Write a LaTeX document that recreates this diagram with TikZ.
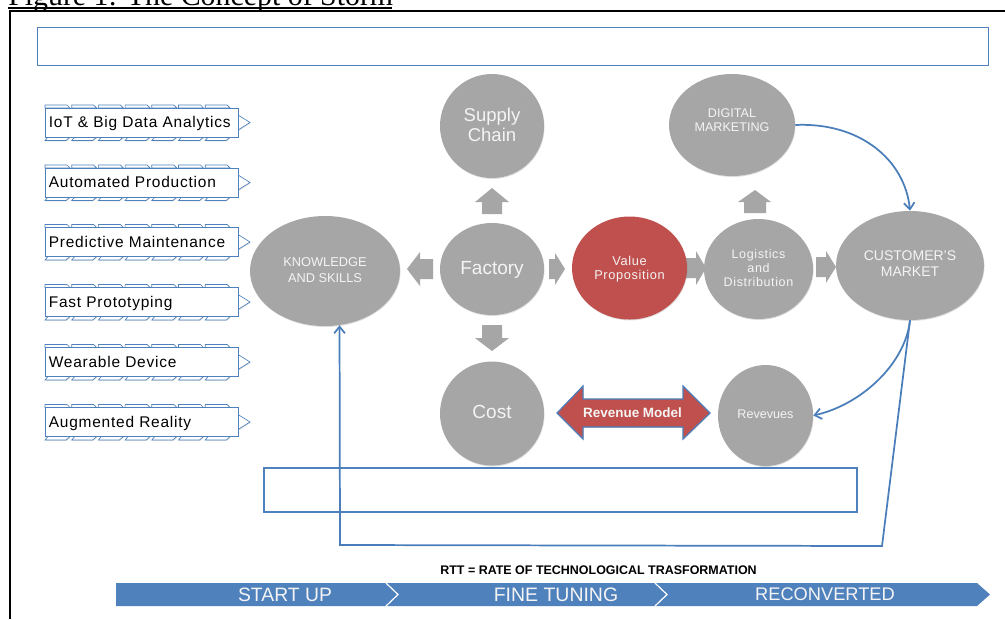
\documentclass[tikz,border=0pt]{standalone}
\usepackage{fontspec}
\setmainfont{Liberation Sans}
\newfontfamily\titlefont{Liberation Serif}
\newfontfamily\spacedfont[LetterSpace=5]{Liberation Sans}
\usetikzlibrary{shapes.geometric,shadows,arrows.meta}
\definecolor{ovalgray}{HTML}{A6A6A6}
\definecolor{redfill}{HTML}{C0504D}
\definecolor{bluefill}{HTML}{4F81BD}
\definecolor{blueline}{HTML}{4A7EBB}
\definecolor{soft}{HTML}{F4F4F4}
\tikzset{
  softshadow/.style={drop shadow={shadow xshift=0.4pt,shadow yshift=-0.7pt,opacity=.22,fill=black!60}},
  oval/.style n args={3}{ellipse,inner sep=0pt,minimum width=#1*1.5pt,minimum height=#2*1.5pt,
     fill=#3,softshadow},
  ovaltext/.style 2 args={text=soft,align=center,inner sep=0pt,font=\fontsize{#1}{#2}\selectfont},
  ovalspaced/.style={text=soft,align=center,inner sep=0pt,font=\fontsize{#1}{10.4}\spacedfont},
  blockarrow/.style={fill=ovalgray,draw=none},
  connector/.style={draw=blueline,line width=1.3pt},
  barb/.style={-{Straight Barb[length=5pt,width=8pt]}},
  emptybox/.style={draw=bluefill,line width=0.8pt,fill=white,softshadow},
  tagbox/.style={draw=bluefill,line width=0.7pt,fill=white,inner sep=0pt,minimum width=144.75pt,minimum height=21.75pt,
     softshadow,text=black,text width=139pt,text height=10.5pt,text depth=2.5pt,align=left,font=\fontsize{11.6}{14}\spacedfont},
  tick/.style={draw=bluefill,line width=0.5pt,fill=white,softshadow},
  band/.style={text=soft,inner sep=0pt,font=\fontsize{#1}{16}\selectfont},
  frameline/.style={draw=black,line width=1.1pt}
}
\begin{document}
\begin{tikzpicture}[x=0.75pt,y=-0.75pt]
\clip (0,0) rectangle (1005,619);
\fill[white] (0,0) rectangle (1005,619);
% title
\node[anchor=base west,inner sep=0pt,font=\fontsize{22.4}{25}\titlefont] (title) at (8,5) {Figure 1: The Concept of Storm};
\draw[frameline] (8,8) -- (392,8);
\draw[frameline] (1005,11) -- (10,11) -- (10,619);
% empty box
\node[emptybox,minimum width=713.25pt,minimum height=28.5pt,inner sep=0pt] (topbox) at (513,46.5) {};
% block arrows
\path[blockarrow] (482,214) -- (482,202) -- (475,202) -- (492,188) -- (509,202) -- (502,202) -- (502,214) -- cycle;
\path[blockarrow] (433,259) -- (420,259) -- (420,252) -- (407,269) -- (420,286) -- (420,279) -- (433,279) -- cycle;
\path[blockarrow] (549,259) -- (555,259) -- (555,253) -- (565,269) -- (555,285) -- (555,279) -- (549,279) -- cycle;
\path[blockarrow] (482,325) -- (482,338) -- (475,338) -- (492,351) -- (509,338) -- (502,338) -- (502,325) -- cycle;
\path[blockarrow] (744,213) -- (744,202) -- (738,202) -- (755,190) -- (771,202) -- (766,202) -- (766,213) -- cycle;
\path[blockarrow] (686,258) -- (696,258) -- (696,251) -- (706,268) -- (696,285) -- (696,278) -- (686,278) -- cycle;
\path[blockarrow] (816,257) -- (826,257) -- (826,251) -- (836,267) -- (826,283) -- (826,277) -- (816,277) -- cycle;
% ovals
\node[oval={52}{52}{ovalgray}] (supply) at (492,126) {};
\node[oval={63}{51}{ovalgray}] (digital) at (732,125) {};
\node[oval={75}{55}{ovalgray}] (know) at (325,271) {};
\node[oval={52}{46}{ovalgray}] (factory) at (492,269) {};
\node[oval={57.5}{51.5}{redfill}] (value) at (629.5,268) {};
\node[oval={54.5}{50}{ovalgray}] (logi) at (758.5,269) {};
\node[oval={74}{54.5}{ovalgray}] (cust) at (910,265.5) {};
\node[oval={52}{52}{ovalgray}] (cost) at (492,413.5) {};
\node[oval={47.5}{50.5}{ovalgray}] (rev) at (765.5,415.5) {};
% oval labels
\node[ovaltext={13.9}{15}] (supplytext) at (492,125) {Supply\\Chain};
\node[ovaltext={9.45}{11}] (digitaltext) at (732,120) {DIGITAL\\MARKETING};
\node[ovaltext={9.6}{11.5}] (knowtext) at (325,270) {KNOWLEDGE\\AND SKILLS};
\node[ovaltext={14.25}{16}] (factorytext) at (492,270) {Factory};
\node[ovalspaced=9.6] (valuetext) at (629.5,269) {Value\\Proposition};
\node[ovalspaced=9.4] (logitext) at (758.5,268) {Logistics\\and\\Distribution};
\node[ovaltext={10.5}{11.5}] (custtext) at (910,263.5) {CUSTOMER'S\\MARKET};
\node[ovaltext={14.25}{16}] (costtext) at (492,411.5) {Cost};
\node[ovaltext={9.45}{11}] (revtext) at (765.5,414.5) {Revevues};
% revenue model arrow
\path[fill=redfill,draw=blueline,line width=0.9pt,softshadow]
  (557,413) -- (583,386) -- (583,399) -- (683,399) -- (683,386) -- (710,413) -- (683,439) -- (683,427) -- (583,427) -- (583,439) -- cycle;
\node[text=soft,inner sep=0pt,font=\fontsize{10.1}{12}\bfseries] (model) at (632.5,412.5) {Revenue Model};
% lower box
\node[emptybox,minimum width=444.75pt,minimum height=33pt,inner sep=0pt] (lowbox) at (560.5,490) {};
% connectors
\coordinate (cornerR) at (882,546);
\coordinate (cornerL) at (340,545);
\draw[connector,barb] (digital.east) .. controls (860,122) and (905,160) .. (cust.north);
\draw[connector,barb] (cust.south) .. controls (905,365) and (860,405) .. (rev.east);
\draw[connector,barb] (cust.south) -- (cornerR) -- (cornerL) -- (know.-75);
% tags
\foreach \n/\yy/\txt in {1/122.5/IoT \& Big Data Analytics,2/182.5/Automated Production,3/242/Predictive Maintenance,4/302/Fast Prototyping,5/362/Wearable Device,6/422/Augmented Reality}{
  \path[tick] (238,\yy-7.5) -- (250,\yy) -- (238,\yy+7.5) -- cycle;
  \foreach \k in {0,...,6}{
    \path[tick] (45+\k*26.7,\yy-14.5) -- (45+\k*26.7,\yy-17.5) -- (45+\k*26.7+22,\yy-17.5) -- (45+\k*26.7+25,\yy-14.5) -- cycle;
    \path[tick] (45+\k*26.7+3,\yy+14.5) -- (45+\k*26.7,\yy+18) -- (45+\k*26.7+21,\yy+18) -- (45+\k*26.7+25,\yy+14.5) -- cycle;
  }
  \node[tagbox] (tag\n) at (141.5,\yy) {\txt};
}
% bottom
\node[inner sep=0pt,text=black,font=\fontsize{9.35}{11}\bfseries] (rtt) at (598.5,570.5) {RTT = RATE OF TECHNOLOGICAL TRASFORMATION};
\fill[bluefill] (116,583) -- (977,583) -- (990,594.5) -- (977,606) -- (116,606) -- cycle;
\draw[white,line width=0.9pt] (386,583) -- (398,594.5) -- (386,606);
\draw[white,line width=0.9pt] (655,583) -- (667,594.5) -- (655,606);
\node[band=14.5] (start) at (285,594.5) {START UP};
\node[band=14.6] (fine) at (556,594.5) {FINE TUNING};
\node[band=13.7] (recon) at (825,594.5) {RECONVERTED};
\end{tikzpicture}
\end{document}
